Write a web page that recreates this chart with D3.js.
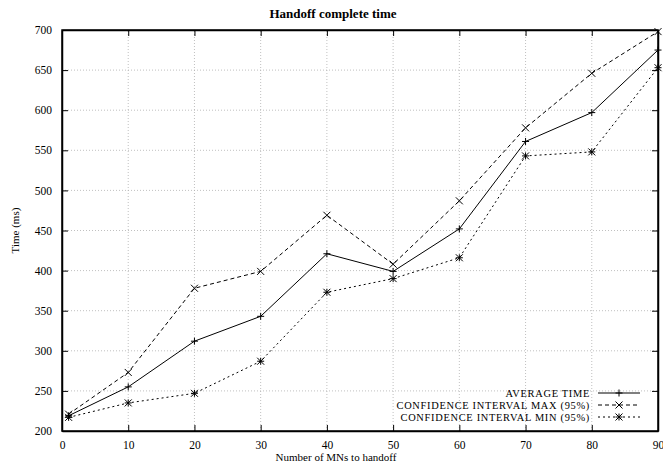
<!DOCTYPE html>
<html>
<head>
<meta charset="utf-8">
<script src="https://cdn.jsdelivr.net/npm/d3@7"></script>
<style>
  body { margin: 0; background: #fff; }
  text { font-family: "Liberation Serif", "Times New Roman", serif; fill: #000; }
</style>
</head>
<body>
<div id="chart"></div>
<script>
// data
var mns = [1, 10, 20, 30, 40, 50, 60, 70, 80, 90];
var avgTime = [219, 255, 312, 343, 421, 399, 452, 561, 597, 675];
var ciMax = [221, 273, 378, 399, 469, 408, 487, 578, 646, 698];
var ciMin = [217, 235, 247, 287, 373, 390, 416, 543, 548, 653];
var xTicks = [0, 10, 20, 30, 40, 50, 60, 70, 80, 90];
var yTicks = [200, 250, 300, 350, 400, 450, 500, 550, 600, 650, 700];
var seriesNames = ["AVERAGE TIME", "CONFIDENCE INTERVAL MAX (95%)", "CONFIDENCE INTERVAL MIN (95%)"];

const width = 663, height = 468;
const margin = { top: 30, right: 5, bottom: 37, left: 62 };
const svg = d3.select("#chart").append("svg")
  .attr("width", width).attr("height", height);

const x = d3.scaleLinear().domain([0, 90]).range([margin.left, width - margin.right]);
const y = d3.scaleLinear().domain([200, 700]).range([height - margin.bottom, margin.top]);

// grid
const grid = svg.append("g").attr("stroke", "#b0b0b0").attr("stroke-width", 0.8).attr("stroke-dasharray", "1,2");
grid.selectAll(".gx").data(xTicks.slice(1, -1)).join("line")
  .attr("x1", d => x(d)).attr("x2", d => x(d))
  .attr("y1", y(200)).attr("y2", y(700));
grid.selectAll(".gy").data(yTicks.slice(1, -1)).join("line")
  .attr("x1", x(0)).attr("x2", x(90))
  .attr("y1", d => y(d)).attr("y2", d => y(d));

// axes (ticks on all four sides, like gnuplot)
const tk = 6;
svg.append("g").attr("transform", `translate(0,${y(200)})`)
  .call(d3.axisBottom(x).tickValues(xTicks).tickSizeInner(-tk).tickSizeOuter(0).tickPadding(10));
svg.append("g").attr("transform", `translate(0,${y(700)})`)
  .call(d3.axisTop(x).tickValues(xTicks).tickSizeInner(-tk).tickSizeOuter(0).tickFormat(""));
svg.append("g").attr("transform", `translate(${x(0)},0)`)
  .call(d3.axisLeft(y).tickValues(yTicks).tickSizeInner(-tk).tickSizeOuter(0).tickPadding(10));
svg.append("g").attr("transform", `translate(${x(90)},0)`)
  .call(d3.axisRight(y).tickValues(yTicks).tickSizeInner(-tk).tickSizeOuter(0).tickFormat(""));
svg.selectAll(".domain").attr("stroke", "#000").attr("stroke-width", 1.5);
svg.selectAll(".tick line").attr("stroke", "#000");
svg.selectAll(".tick text").attr("font-family", "Liberation Serif").attr("font-size", 11.5);

svg.append("rect")
  .attr("x", x(0)).attr("y", y(700))
  .attr("width", x(90) - x(0)).attr("height", y(200) - y(700))
  .attr("fill", "none").attr("stroke", "#000").attr("stroke-width", 1.5);

// labels
svg.append("text").attr("x", 333).attr("y", 18)
  .attr("text-anchor", "middle").attr("font-weight", "bold").attr("font-size", 13)
  .text("Handoff complete time");
svg.append("text").attr("x", 336).attr("y", 461)
  .attr("text-anchor", "middle").attr("font-size", 11)
  .text("Number of MNs to handoff");
svg.append("text")
  .attr("transform", `translate(19,${(y(200) + y(700)) / 2}) rotate(-90)`)
  .attr("text-anchor", "middle").attr("font-size", 11)
  .text("Time (ms)");

// markers
function marker(g, kind, cx, cy) {
  const s = 3.5;
  const p = [];
  if (kind === "plus" || kind === "star") p.push(`M${cx - s},${cy}H${cx + s}M${cx},${cy - s}V${cy + s}`);
  if (kind === "cross" || kind === "star") p.push(`M${cx - s},${cy - s}L${cx + s},${cy + s}M${cx - s},${cy + s}L${cx + s},${cy - s}`);
  g.append("path").attr("d", p.join("")).attr("stroke", "#000").attr("stroke-width", 1).attr("fill", "none");
}

const series = [
  { name: seriesNames[0], values: avgTime, dash: null, mark: "plus" },
  { name: seriesNames[1], values: ciMax, dash: "4,3", mark: "cross" },
  { name: seriesNames[2], values: ciMin, dash: "2,3", mark: "star" }
];

const line = d3.line().x(d => x(d[0])).y(d => y(d[1]));
series.forEach(function (s, i) {
  const pts = mns.map((m, j) => [m, s.values[j]]);
  const g = svg.append("g");
  g.append("path").attr("d", line(pts))
    .attr("fill", "none").attr("stroke", "#000").attr("stroke-width", 1)
    .attr("stroke-dasharray", s.dash);
  pts.forEach(p => marker(g, s.mark, x(p[0]), y(p[1])));

  // legend entry
  const ly = 393 + i * 12;
  svg.append("text").attr("x", 590).attr("y", ly + 3.5)
    .attr("text-anchor", "end").attr("font-size", 10.4)
    .attr("letter-spacing", 0.7).text(s.name);
  g.append("line").attr("x1", 598).attr("x2", 640).attr("y1", ly).attr("y2", ly)
    .attr("stroke", "#000").attr("stroke-dasharray", s.dash);
  marker(g, s.mark, 619, ly);
});
</script>
</body>
</html>
